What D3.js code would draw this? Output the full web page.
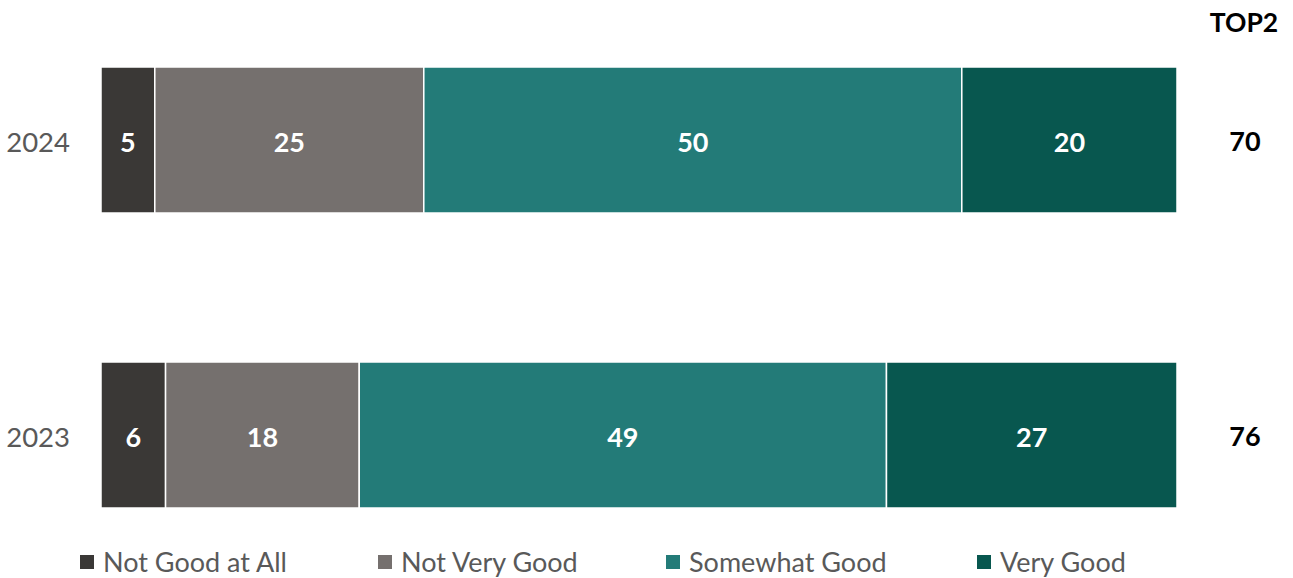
<!DOCTYPE html>
<html>
<head>
<meta charset="utf-8">
<script src="https://cdn.jsdelivr.net/npm/d3@7"></script>
<style>
  html, body { margin: 0; padding: 0; background: #fff; }
  svg { display: block; font-family: Lato, "Open Sans", sans-serif; }
</style>
</head>
<body>
<svg id="chart" width="1293" height="578"></svg>
<script>
// Survey years (rows) and response categories (stack segments)
const years = ["2024", "2023"];
const categories = ["Not Good at All", "Not Very Good", "Somewhat Good", "Very Good"];
const colors = ["#3a3836", "#75706e", "#237b78", "#08574f"];

// Percentages per category, one array per category, ordered like `years`
const notGoodAtAll = [5, 6];
const notVeryGood = [25, 18];
const somewhatGood = [50, 49];
const veryGood = [20, 27];

// Top-2 box totals shown at the right
const top2 = [70, 76];
const top2Title = "TOP2";

const seriesValues = [notGoodAtAll, notVeryGood, somewhatGood, veryGood];

const rows = years.map((y, i) => {
  const r = { year: y };
  categories.forEach((c, k) => { r[c] = seriesValues[k][i]; });
  return r;
});

const svg = d3.select("#chart");
const width = 1293;
const margin = { left: 101, right: 116 };
const barH = 146;

const x = d3.scaleLinear().domain([0, 100]).range([margin.left, width - margin.right]);
// Row centres
const yPos = d3.scalePoint().domain(years).range([67 + barH / 2, 362 + barH / 2]);
const color = d3.scaleOrdinal().domain(categories).range(colors);

const stacked = d3.stack().keys(categories)(rows);

const layers = svg.append("g").selectAll("g")
  .data(stacked)
  .join("g")
  .attr("fill", d => color(d.key));

layers.selectAll("rect")
  .data(d => d)
  .join("rect")
  .attr("x", d => x(d[0]))
  .attr("y", d => yPos(d.data.year) - barH / 2)
  .attr("width", d => x(d[1]) - x(d[0]))
  .attr("height", barH)
  .attr("stroke", "#fff")
  .attr("stroke-width", 1.5);

// Value labels inside segments
layers.selectAll("text")
  .data(d => d.map(v => Object.assign(v, { key: d.key })))
  .join("text")
  .attr("x", d => (x(d[0]) + x(d[1])) / 2)
  .attr("y", d => yPos(d.data.year) + 2)
  .attr("dy", "0.36em")
  .attr("text-anchor", "middle")
  .attr("fill", "#fff")
  .attr("font-weight", "bold")
  .attr("font-size", 27)
  .text(d => d.data[d.key]);

// Year axis labels
const yAxis = d3.axisLeft(yPos).tickSize(0).tickPadding(0);
const ya = svg.append("g").attr("transform", "translate(70,2)").call(yAxis);
ya.select(".domain").remove();
ya.selectAll("text")
  .attr("font-family", "Lato, 'Open Sans', sans-serif")
  .attr("font-size", 27.5)
  .attr("fill", "#595959")
  .attr("dy", "0.36em");

// TOP2 column
svg.append("text")
  .attr("x", 1244).attr("y", 22)
  .attr("dy", "0.36em")
  .attr("text-anchor", "middle")
  .attr("font-weight", "bold")
  .attr("font-size", 26.5)
  .attr("fill", "#000")
  .text(top2Title);

svg.append("g").selectAll("text")
  .data(years)
  .join("text")
  .attr("x", 1245)
  .attr("y", d => yPos(d) + 1)
  .attr("dy", "0.36em")
  .attr("text-anchor", "middle")
  .attr("font-weight", "bold")
  .attr("font-size", 27)
  .attr("fill", "#000")
  .text((d, i) => top2[i]);

// Legend
const legendX = [80, 378, 666, 977];
const legend = svg.append("g").selectAll("g")
  .data(categories)
  .join("g")
  .attr("transform", (d, i) => `translate(${legendX[i]},562)`);

legend.append("rect")
  .attr("x", 0).attr("y", -7)
  .attr("width", 14).attr("height", 14)
  .attr("fill", d => color(d));

legend.append("text")
  .attr("x", 23).attr("y", 0)
  .attr("dy", "0.36em")
  .attr("font-size", 27)
  .attr("fill", "#595959")
  .text(d => d);
</script>
</body>
</html>
